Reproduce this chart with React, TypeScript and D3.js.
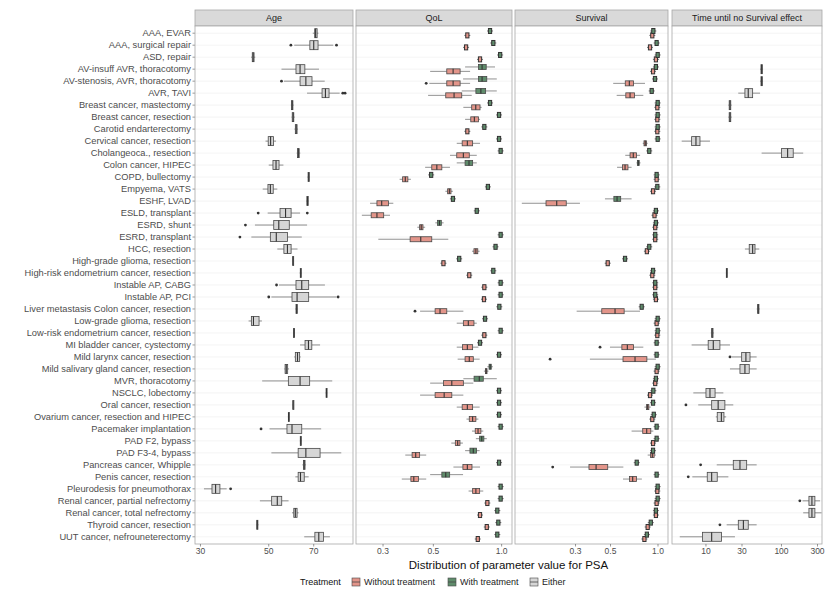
import React from "react";
import * as d3 from "d3";

type Five = [number, number, number, number, number];
type BoxVal = number | Five | null;

const categories = [
  "AAA, EVAR", "AAA, surgical repair", "ASD, repair", "AV-insuff AVR, thoracotomy",
  "AV-stenosis, AVR, thoracotomy", "AVR, TAVI", "Breast cancer, mastectomy", "Breast cancer, resection",
  "Carotid endarterectomy", "Cervical cancer, resection", "Cholangeoca., resection", "Colon cancer, HIPEC",
  "COPD, bullectomy", "Empyema, VATS", "ESHF, LVAD", "ESLD, transplant", "ESRD, shunt", "ESRD, transplant",
  "HCC, resection", "High-grade glioma, resection", "High-risk endometrium cancer, resection",
  "Instable AP, CABG", "Instable AP, PCI", "Liver metastasis Colon cancer, resection",
  "Low-grade glioma, resection", "Low-risk endometrium cancer, resection", "MI bladder cancer, cystectomy",
  "Mild larynx cancer, resection", "Mild salivary gland cancer, resection", "MVR, thoracotomy",
  "NSCLC, lobectomy", "Oral cancer, resection", "Ovarium cancer, resection and HIPEC",
  "Pacemaker implantation", "PAD F2, bypass", "PAD F3-4, bypass", "Pancreas cancer, Whipple",
  "Penis cancer, resection", "Pleurodesis for pneumothorax", "Renal cancer, partial nefrectomy",
  "Renal cancer, total nefrectomy", "Thyroid cancer, resection", "UUT cancer, nefrouneterectomy",
];

const panelTitles = ["Age", "QoL", "Survival", "Time until no Survival effect"];
const ageTicks = [30, 50, 70];
const qolTicks = [0.3, 0.5, 1.0];
const survTicks = [0.3, 0.5, 1.0];
const timeTicks = [10, 30, 100, 300];
const legendLabels = ["Without treatment", "With treatment", "Either"];

// Age (Either): [low whisker, q1, median, q3, high whisker]
const ageBoxes: BoxVal[] = [
  [69.5, 70.5, 71, 71.8, 72.5], [60.5, 68, 70, 72.3, 81], [43.8, 44.2, 44.5, 44.8, 45.2],
  [55, 61.3, 63.2, 65.5, 72.8], [56, 63.2, 66, 69.1, 76], [66.6, 74.5, 76.4, 78.5, 85],
  [59, 59.3, 59.6, 59.9, 60.2], [59.3, 59.6, 60, 60.3, 60.7], [60.6, 61, 61.4, 61.8, 62.2],
  [48.8, 49.8, 50.7, 51.8, 52.8], [61.6, 62, 62.4, 62.8, 63.3], [50, 51.6, 52.8, 54, 55.8],
  [66.8, 67.1, 67.4, 67.7, 68], [47.8, 49.7, 50.6, 51.7, 53.3], [66.2, 66.5, 66.8, 67.2, 67.5],
  [49.6, 54.4, 56.7, 59.1, 63.2], [45.1, 51.9, 53.9, 58.3, 66.6], [43.9, 50.6, 52.9, 57.5, 64],
  [53.3, 56, 57.5, 59.1, 62], [59.6, 59.8, 60, 60.2, 60.4], [63, 63.3, 63.5, 63.7, 64],
  [54, 61.3, 64, 67.4, 76.1], [51, 59.5, 61.8, 67.4, 83], [61, 61.3, 61.6, 61.9, 62.2],
  [43, 43.9, 44.6, 46.5, 47.5], [60, 60.2, 60.4, 60.6, 60.8], [63.2, 65.6, 67.3, 69, 73.4],
  [60.5, 61, 62, 63, 63.5], [56.2, 56.5, 57, 57.6, 58.2], [47.6, 57.9, 63.2, 67.9, 80.4],
  [76.5, 76.8, 77, 77.2, 77.5], [59.7, 59.9, 60, 60.2, 60.4], [57.7, 57.9, 58, 58.2, 58.4],
  [50.3, 57.3, 59.5, 64, 74], [63.1, 63.3, 63.5, 63.7, 64], [51, 62.3, 66, 73.4, 86],
  [64.3, 64.8, 65.2, 65.6, 66], [61, 62.3, 63.4, 65.2, 67.4], [30.8, 32.7, 33.6, 34.7, 36.5],
  [46.8, 51.1, 53.3, 55.1, 58], [59.5, 60.3, 61, 61.8, 62.5], [45.5, 45.7, 45.9, 46.1, 46.3],
  [65.2, 70.6, 72.7, 75.3, 79],
];
const ageOutliers: [number, number][] = [
  [1, 59], [1, 83], [4, 55], [5, 87], [5, 88.5], [15, 46.2], [15, 66.7], [16, 42], [17, 40.3],
  [21, 53], [22, 50], [22, 84], [33, 47.2], [38, 37.6],
];

// QoL, without treatment (a single number = a very narrow box)
const qolWithout: BoxVal[] = [
  0.706, 0.697, 0.803, [0.484, 0.573, 0.611, 0.656, 0.726], [0.48, 0.573, 0.611, 0.656, 0.726],
  [0.474, 0.567, 0.617, 0.667, 0.738], [0.678, 0.738, 0.769, 0.803, 0.817], [0.69, 0.731, 0.758, 0.79, 0.803],
  0.706, [0.634, 0.67, 0.706, 0.745, 0.803], [0.592, 0.634, 0.678, 0.72, 0.777], [0.46, 0.492, 0.518, 0.545, 0.592],
  [0.355, 0.366, 0.376, 0.386, 0.398], [0.565, 0.578, 0.588, 0.598, 0.61], [0.263, 0.282, 0.296, 0.317, 0.333],
  [0.242, 0.266, 0.282, 0.302, 0.322], [0.425, 0.435, 0.442, 0.45, 0.46], [0.286, 0.395, 0.44, 0.492, 0.582],
  [0.74, 0.755, 0.77, 0.785, 0.8], 0.554, 0.72, 0.839, 0.836, [0.437, 0.509, 0.535, 0.573, 0.678],
  [0.634, 0.678, 0.713, 0.755, 0.777], 0.839, [0.634, 0.672, 0.706, 0.745, 0.79], [0.64, 0.69, 0.72, 0.75, 0.8],
  [0.835, 0.848, 0.855, 0.862, 0.875], [0.484, 0.554, 0.603, 0.678, 0.75], [0.437, 0.509, 0.558, 0.603, 0.678],
  [0.634, 0.67, 0.706, 0.745, 0.8], [0.7, 0.72, 0.745, 0.77, 0.79], [0.74, 0.765, 0.787, 0.81, 0.83],
  [0.6, 0.625, 0.64, 0.655, 0.675], [0.376, 0.403, 0.418, 0.435, 0.465], [0.613, 0.675, 0.706, 0.74, 0.803],
  [0.363, 0.398, 0.41, 0.43, 0.465], [0.715, 0.745, 0.77, 0.8, 0.83], 0.865, 0.803, 0.86, 0.785,
];
const qolWithoutOutliers: [number, number][] = [[4, 0.465], [23, 0.415]];

const qolWith: BoxVal[] = [
  0.889, 0.919, 0.985, [0.69, 0.79, 0.82, 0.855, 0.935], [0.676, 0.79, 0.82, 0.86, 0.952],
  [0.667, 0.77, 0.81, 0.85, 0.952], 0.889, 0.974, 0.839, 0.974, 0.99, [0.634, 0.69, 0.718, 0.745, 0.777],
  0.489, 0.87, 0.61, 0.777, [0.51, 0.522, 0.532, 0.542, 0.555], 0.99, 0.94, 0.65, 0.919, 0.99, 0.99,
  0.977, 0.845, 0.99, 0.803, 0.974, [0.865, 0.88, 0.89, 0.9, 0.915], [0.678, 0.756, 0.797, 0.83, 0.952],
  0.974, 0.974, 0.974, 0.99, [0.77, 0.8, 0.817, 0.835, 0.86], [0.69, 0.725, 0.75, 0.775, 0.8], 0.974,
  [0.484, 0.545, 0.567, 0.59, 0.676], 0.99, 0.99, 0.957, 0.967, 0.957,
];

const survWithout: BoxVal[] = [
  0.92, 0.89, 0.97, 0.93, [0.52, 0.62, 0.658, 0.7, 0.827], [0.547, 0.625, 0.665, 0.71, 0.807], 0.99, 0.99, 0.99,
  [0.8, 0.815, 0.83, 0.845, 0.86], [0.62, 0.665, 0.697, 0.73, 0.77], [0.55, 0.595, 0.618, 0.645, 0.68], 0.98, 0.93,
  [0.137, 0.195, 0.228, 0.262, 0.32], 0.95, 0.96, 0.96, 0.85, 0.48, 0.92, 0.96, 0.97,
  [0.305, 0.44, 0.534, 0.61, 0.769], 0.98, 0.99, [0.496, 0.59, 0.639, 0.7, 0.807], [0.37, 0.6, 0.715, 0.85, 0.97],
  0.98, 0.96, 0.89, [0.82, 0.845, 0.86, 0.875, 0.9], 0.92, [0.68, 0.8, 0.848, 0.9, 0.934], 0.93,
  [0.86, 0.895, 0.92, 0.945, 0.97], [0.277, 0.365, 0.405, 0.48, 0.603], [0.6, 0.66, 0.691, 0.73, 0.79], 0.99, 0.98,
  0.97, 0.86, 0.82,
];
const survWithoutOutliers: [number, number][] = [[26, 0.429], [27, 0.207], [36, 0.215]];

const survWith: BoxVal[] = [
  0.934, 0.98, 0.995, 0.97, 0.957, 0.912, 0.995, 0.995, 0.995, 0.995, 0.88, [0.73, 0.74, 0.75, 0.76, 0.775],
  0.98, 0.99, [0.461, 0.525, 0.55, 0.58, 0.68], 0.97, 0.97, 0.96, 0.88, 0.618, 0.93, 0.96, 0.96, 0.788, 0.995,
  0.995, 0.98, 0.98, 0.995, 0.97, 0.934, 0.93, 0.94, 0.98, 0.98, 0.93, 0.733, 0.98, 0.995, 0.995, 0.97, 0.9, 0.85,
];

const timeBoxes: BoxVal[] = [
  null, null, null, [52, 53.5, 54.6, 55.8, 57], [52, 53.5, 54.6, 55.8, 57], [26.8, 32.8, 36.3, 41.5, 52],
  [19.8, 20.3, 20.8, 21.3, 21.9], [19.8, 20.3, 20.8, 21.3, 21.9], null, [4.77, 6.46, 7.37, 8.33, 11.3],
  [54.6, 100, 120.6, 143, 194], null, null, null, null, null, null, null, [32.8, 37.4, 41.5, 44.6, 50.8],
  null, [18.4, 18.6, 18.8, 19, 19.2], null, null, [47, 48.3, 49.3, 50.3, 51.5], null,
  [11.6, 11.9, 12.1, 12.4, 12.7], [6.46, 10.7, 12.5, 15.3, 20.8], [22, 29.7, 33.8, 38.3, 46.9],
  [20.8, 28.2, 32.8, 37.4, 46.9], null, [6.8, 10, 11.3, 13.2, 17], [7.9, 11.9, 14.5, 17.8, 23],
  [13.5, 14.1, 16, 17.3, 18.5], null, null, null, [13.9, 23, 28.2, 34.6, 46.9], [6.6, 10.4, 11.9, 14.1, 19.8],
  null, [190, 231, 253, 277, 324], [194, 231, 253, 277, 340], [18.8, 26.8, 31.3, 36.3, 46.9],
  [4.5, 9, 11.9, 16.1, 24.2],
];
const timeOutliers: [number, number][] = [[27, 20.8], [31, 5.43], [36, 8.5], [37, 5.83], [39, 175], [41, 15.3]];

// ---------- styling ----------
const W = 825, H = 589;
const TOP = 26, BOTTOM = 544, STRIP_TOP = 10;
const FONT = "'Liberation Sans', Arial, Helvetica, sans-serif";
const COL_WITHOUT = "#e3958a";
const COL_WITH = "#5f8c6b";
const COL_EITHER = "#d6d6d6";
const STROKE = "#474747";

const y = d3.scalePoint<string>().domain(categories).range([TOP, BOTTOM]).padding(0.6);

interface Series { data: BoxVal[]; outliers: [number, number][]; fill: string; dy: number; h: number; }
interface Panel { title: string; x0: number; x1: number; domain: [number, number]; ticks: number[]; fmt: (v: number) => string; series: Series[]; }

const panels: Panel[] = [
  { title: panelTitles[0], x0: 195, x1: 353, domain: [28.8, 93.9], ticks: ageTicks, fmt: (v) => String(v),
    series: [{ data: ageBoxes, outliers: ageOutliers, fill: COL_EITHER, dy: 0, h: 9 }] },
  { title: panelTitles[1], x0: 356, x1: 512, domain: [0.228, 1.111], ticks: qolTicks, fmt: (v) => v.toFixed(1),
    series: [
      { data: qolWithout, outliers: qolWithoutOutliers, fill: COL_WITHOUT, dy: 2.2, h: 5 },
      { data: qolWith, outliers: [], fill: COL_WITH, dy: -2.2, h: 5 },
    ] },
  { title: panelTitles[2], x0: 515, x1: 668, domain: [0.124, 1.157], ticks: survTicks, fmt: (v) => v.toFixed(1),
    series: [
      { data: survWithout, outliers: survWithoutOutliers, fill: COL_WITHOUT, dy: 2.2, h: 5 },
      { data: survWith, outliers: [], fill: COL_WITH, dy: -2.2, h: 5 },
    ] },
  { title: panelTitles[3], x0: 672, x1: 822, domain: [3.55, 344], ticks: timeTicks, fmt: (v) => String(v),
    series: [{ data: timeBoxes, outliers: timeOutliers, fill: COL_EITHER, dy: 0, h: 9 }] },
];

function BoxMark({ v, x, cy, h, fill }: { v: BoxVal; x: d3.ScaleLogarithmic<number, number>; cy: number; h: number; fill: string }) {
  if (v == null) return null;
  if (typeof v === "number") {
    const cx = x(v);
    return (
      <g>
        <line x1={cx - 3} x2={cx + 3} y1={cy} y2={cy} stroke="#333" strokeWidth={0.7} />
        <rect x={cx - 1.6} y={cy - h / 2} width={3.2} height={h} fill={fill} stroke="#333" strokeWidth={1} />
      </g>
    );
  }
  const [lo, q1, md, q3, hi] = v;
  const xl = x(lo), x1 = x(q1), xm = x(md), x3 = x(q3), xh = x(hi);
  return (
    <g>
      <line x1={xl} x2={x1} y1={cy} y2={cy} stroke={STROKE} strokeWidth={0.6} />
      <line x1={x3} x2={xh} y1={cy} y2={cy} stroke={STROKE} strokeWidth={0.6} />
      <rect x={x1} y={cy - h / 2} width={Math.max(x3 - x1, 1)} height={h} fill={fill} stroke={STROKE} strokeWidth={0.8} />
      <line x1={xm} x2={xm} y1={cy - h / 2} y2={cy + h / 2} stroke="#333" strokeWidth={1.1} />
    </g>
  );
}

function PanelView({ p }: { p: Panel }) {
  const x = d3.scaleLog().domain(p.domain).range([p.x0, p.x1]);
  return (
    <g>
      <rect x={p.x0} y={STRIP_TOP} width={p.x1 - p.x0} height={TOP - STRIP_TOP} fill="#d9d9d9" stroke="#a8a8a8" strokeWidth={0.8} />
      <text x={(p.x0 + p.x1) / 2} y={(STRIP_TOP + TOP) / 2} dy="0.35em" textAnchor="middle" fontSize={9} fill="#1a1a1a" fontFamily={FONT}>{p.title}</text>
      <rect x={p.x0} y={TOP} width={p.x1 - p.x0} height={BOTTOM - TOP} fill="#ffffff" />
      {categories.map((c) => (
        <line key={c} x1={p.x0} x2={p.x1} y1={y(c)!} y2={y(c)!} stroke="#ececec" strokeWidth={0.6} />
      ))}
      {p.series.map((s, si) => (
        <g key={si}>
          {s.data.map((v, i) => (
            <BoxMark key={i} v={v} x={x} cy={y(categories[i])! + s.dy} h={s.h} fill={s.fill} />
          ))}
          {s.outliers.map(([i, v], k) => (
            <circle key={"o" + k} cx={x(v)} cy={y(categories[i])! + s.dy} r={1.4} fill="#333" />
          ))}
        </g>
      ))}
      <rect x={p.x0} y={TOP} width={p.x1 - p.x0} height={BOTTOM - TOP} fill="none" stroke="#a8a8a8" strokeWidth={0.8} />
      {p.ticks.map((t) => (
        <g key={t}>
          <line x1={x(t)} x2={x(t)} y1={BOTTOM} y2={BOTTOM + 2.5} stroke="#555" strokeWidth={0.6} />
          <text x={x(t)} y={BOTTOM + 10} textAnchor="middle" fontSize={8.5} fill="#4d4d4d" fontFamily={FONT}>{p.fmt(t)}</text>
        </g>
      ))}
    </g>
  );
}

export default function App() {
  const legendFills = [COL_WITHOUT, COL_WITH, COL_EITHER];
  const legendX = [352, 448, 530];
  const legendY = 582;
  return (
    <svg width={W} height={H} style={{ position: "absolute", left: 0, top: 0, background: "#fff" }} fontFamily={FONT}>
      <rect x={0} y={0} width={W} height={H} fill="#fff" />
      {categories.map((c) => (
        <g key={c}>
          <text x={191} y={y(c)!} dy="0.35em" textAnchor="end" fontSize={9.3} fill="#4d4d4d">{c}</text>
          <line x1={192.5} x2={195} y1={y(c)!} y2={y(c)!} stroke="#555" strokeWidth={0.6} />
        </g>
      ))}
      {panels.map((p) => <PanelView key={p.title} p={p} />)}
      <text x={(195 + 822) / 2} y={569} textAnchor="middle" fontSize={11.5} fill="#111">Distribution of parameter value for PSA</text>
      <text x={300} y={legendY} dy="0.35em" fontSize={9} fill="#111">Treatment</text>
      {legendLabels.map((l, i) => (
        <g key={l}>
          <rect x={legendX[i]} y={legendY - 4} width={8} height={8} fill={legendFills[i]} stroke={STROKE} strokeWidth={0.6} />
          <line x1={legendX[i]} x2={legendX[i] + 8} y1={legendY} y2={legendY} stroke={STROKE} strokeWidth={0.8} />
          <text x={legendX[i] + 12} y={legendY} dy="0.35em" fontSize={9} fill="#222">{l}</text>
        </g>
      ))}
    </svg>
  );
}
